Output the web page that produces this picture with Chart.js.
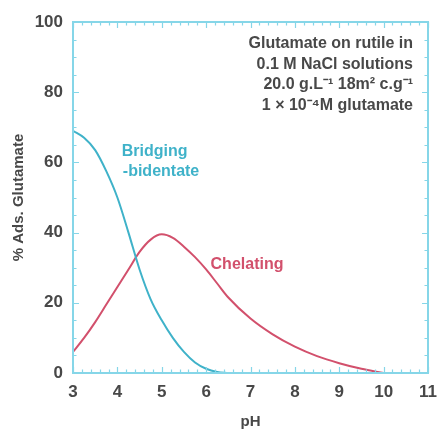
<!DOCTYPE html>
<html>
<head>
<meta charset="utf-8">
<script src="https://cdn.jsdelivr.net/npm/chart.js@4/dist/chart.umd.min.js"></script>
<style>
  html, body { margin: 0; padding: 0; background: #ffffff; }
  #wrap { width: 438px; height: 433px; }
</style>
</head>
<body>
<div id="wrap"><canvas id="c" width="438" height="433"></canvas></div>
<script>
// ---- data ----
const bridgingPH = [3, 3.25, 3.5, 3.75, 4, 4.25, 4.5, 4.75, 5, 5.25, 5.5, 5.75, 6, 6.25, 6.5];
const bridgingAds = [69, 67, 63.5, 57.5, 50, 40, 29.5, 21, 15, 10, 6, 3, 1.2, 0.3, 0];
const chelatingPH = [3, 3.25, 3.5, 3.75, 4, 4.25, 4.5, 4.75, 5, 5.25, 5.5, 5.75, 6, 6.25, 6.5, 7, 7.5, 8, 8.5, 9, 9.5, 10];
const chelatingAds = [6, 10, 14.5, 19.5, 24.5, 29.5, 34.5, 38, 39.5, 38.5, 36, 33, 29.5, 25.5, 21.5, 15.5, 11, 7.5, 4.8, 2.8, 1.2, 0];
const xTicks = [3, 4, 5, 6, 7, 8, 9, 10, 11];
const yTicks = [0, 20, 40, 60, 80, 100];
const infoLines = ["Glutamate on rutile in", "0.1 M NaCl solutions", "20.0 g.L\u207B\u00B9 18m\u00B2 c.g\u207B\u00B9", "1 \u00D7 10\u207B\u2074M glutamate"];
const bridgingLabel = ["Bridging", "-bidentate"];
const chelatingLabel = ["Chelating"];

const CYAN = '#3fb2c9';
const RED = '#d2506c';
const FRAME = '#86d6e8';
const TEXT = '#484848';
const FONT = "'Liberation Sans', Arial, sans-serif";

const toPts = (xs, ys) => xs.map((x, i) => ({ x: x, y: ys[i] }));

const framePlugin = {
  id: 'frame',
  afterDatasetsDraw(chart) {
    const { ctx, chartArea: a, scales: { x, y } } = chart;
    ctx.save();
    ctx.strokeStyle = FRAME;
    ctx.lineWidth = 1.2;
    for (let v = 3; v <= 11.0001; v += 0.2) {
      const px = Math.round(x.getPixelForValue(v)) + 0.5;
      const major = Math.abs(v - Math.round(v)) < 1e-6;
      const len = major ? 6 : 3.5;
      ctx.beginPath();
      ctx.moveTo(px, a.bottom); ctx.lineTo(px, a.bottom - len);
      ctx.moveTo(px, a.top); ctx.lineTo(px, a.top + len);
      ctx.stroke();
    }
    for (let v = 0; v <= 100; v += 5) {
      const py = Math.round(y.getPixelForValue(v)) + 0.5;
      const len = (v % 20 === 0) ? 6 : 3.5;
      ctx.beginPath();
      ctx.moveTo(a.left, py); ctx.lineTo(a.left + len, py);
      ctx.moveTo(a.right, py); ctx.lineTo(a.right - len, py);
      ctx.stroke();
    }
    ctx.lineWidth = 2;
    ctx.strokeRect(a.left, a.top, a.right - a.left, a.bottom - a.top);

    ctx.font = "bold 16px " + FONT;
    ctx.fillStyle = TEXT;
    ctx.textAlign = 'right';
    ctx.textBaseline = 'middle';
    infoLines.forEach((t, i) => ctx.fillText(t, a.right - 15, a.top + 22 + i * 20.5));

    ctx.textAlign = 'left';
    ctx.fillStyle = CYAN;
    ctx.font = "bold 16px " + FONT;
    const bx = x.getPixelForValue(4.1), by = y.getPixelForValue(63);
    bridgingLabel.forEach((t, i) => ctx.fillText(t, bx + (i ? 1 : 0), by + i * 20));

    ctx.fillStyle = RED;
    const cx = x.getPixelForValue(6.1), cy = y.getPixelForValue(31);
    chelatingLabel.forEach((t, i) => ctx.fillText(t, cx, cy + i * 20));
    ctx.restore();
  }
};

new Chart(document.getElementById('c'), {
  type: 'scatter',
  data: {
    datasets: [
      { label: 'Bridging-bidentate', data: toPts(bridgingPH, bridgingAds), showLine: true,
        borderColor: CYAN, borderWidth: 2, pointRadius: 0, cubicInterpolationMode: 'monotone', fill: false },
      { label: 'Chelating', data: toPts(chelatingPH, chelatingAds), showLine: true,
        borderColor: RED, borderWidth: 2, pointRadius: 0, cubicInterpolationMode: 'monotone', fill: false }
    ]
  },
  options: {
    responsive: false,
    animation: false,
    devicePixelRatio: 1,
    layout: { padding: { left: 0, top: 22, right: 10, bottom: 0 } },
    plugins: { legend: { display: false }, tooltip: { enabled: false } },
    scales: {
      x: {
        type: 'linear', min: 3, max: 11,
        afterBuildTicks: s => { s.ticks = xTicks.map(v => ({ value: v })); },
        ticks: { color: TEXT, font: { family: FONT, size: 17, weight: 'bold' }, padding: 1, autoSkip: false, maxRotation: 0 },
        grid: { display: false },
        border: { display: false },
        title: { display: true, text: 'pH', color: TEXT, font: { family: FONT, size: 15, weight: 'bold' }, padding: { top: 4, bottom: 2 } },
        afterFit: s => { s.height = 60; }
      },
      y: {
        type: 'linear', min: 0, max: 100,
        afterBuildTicks: s => { s.ticks = yTicks.map(v => ({ value: v })); },
        ticks: { color: TEXT, font: { family: FONT, size: 17, weight: 'bold' }, padding: 2 },
        grid: { display: false },
        border: { display: false },
        title: { display: true, text: '% Ads. Glutamate', color: TEXT, font: { family: FONT, size: 15, weight: 'bold' }, padding: { top: 10, bottom: 0 } },
        afterFit: s => { s.width = 73; }
      }
    }
  },
  plugins: [framePlugin]
});
</script>
</body>
</html>
